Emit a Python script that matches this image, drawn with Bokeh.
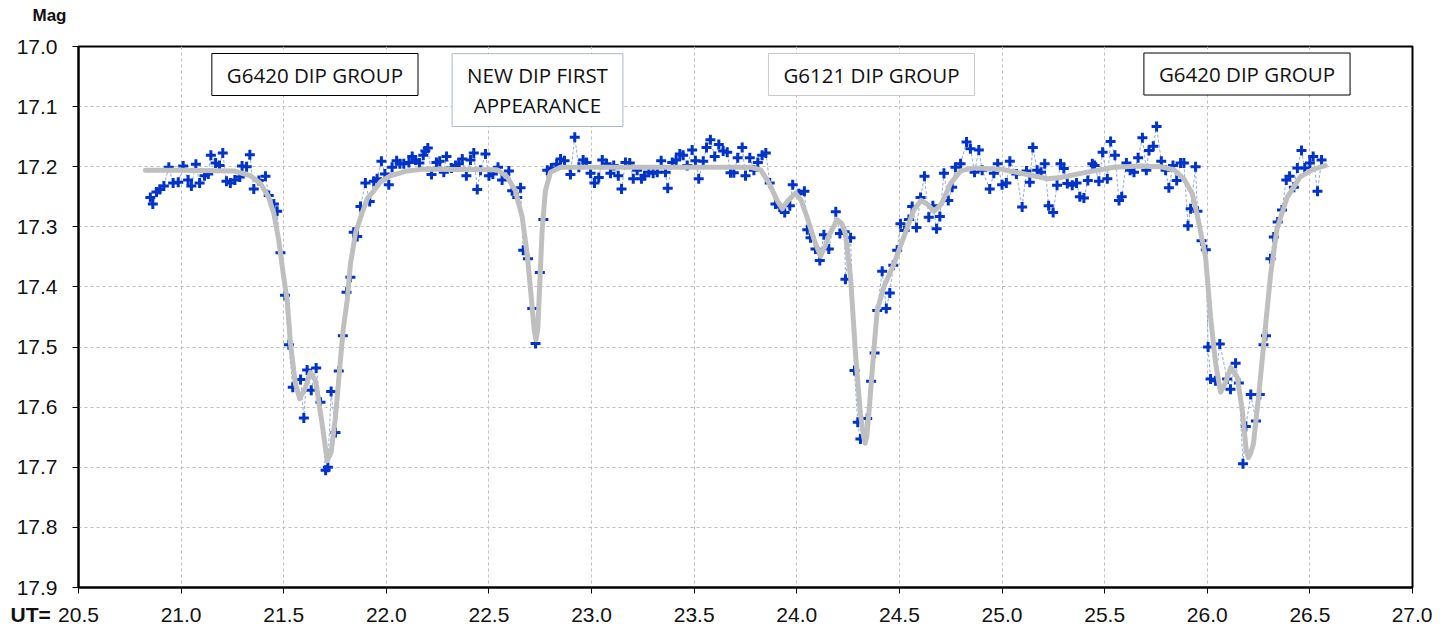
from bokeh.plotting import figure
from bokeh.models import Range1d, FixedTicker, NumeralTickFormatter, Label, Title, ColumnDataSource
from bokeh.embed import file_html
from bokeh.resources import INLINE

# ---- observed photometry (UT hours, magnitude) ----
ut = [
20.850,20.862,20.880,20.896,20.916,20.940,20.961,20.986,21.010,21.034,21.050,21.072,21.090,21.114,21.132,
21.145,21.168,21.187,21.203,21.221,21.240,21.262,21.286,21.297,21.319,21.335,21.354,21.379,21.411,21.427,
21.452,21.468,21.484,21.506,21.525,21.544,21.582,21.598,21.614,21.634,21.658,21.679,21.704,21.715,21.731,
21.752,21.768,21.788,21.806,21.825,21.841,21.858,21.874,21.898,21.919,21.939,21.955,21.976,21.993,22.012,
22.028,22.050,22.066,22.085,22.110,22.126,22.142,22.161,22.180,22.190,22.202,22.220,22.244,22.260,22.280,
22.293,22.317,22.337,22.353,22.370,22.390,22.410,22.426,22.443,22.459,22.483,22.500,22.519,22.544,22.564,
22.597,22.613,22.638,22.654,22.667,22.690,22.711,22.727,22.748,22.765,22.784,22.804,22.830,22.849,22.868,
22.897,22.918,22.938,22.959,22.975,22.995,23.014,23.035,23.052,23.073,23.092,23.108,23.130,23.146,23.165,
23.186,23.203,23.222,23.243,23.258,23.279,23.300,23.320,23.339,23.360,23.371,23.393,23.412,23.430,23.446,
23.466,23.490,23.506,23.522,23.544,23.560,23.579,23.600,23.620,23.641,23.661,23.677,23.693,23.712,23.734,
23.750,23.771,23.791,23.810,23.831,23.849,23.868,23.896,23.917,23.941,23.966,23.980,24.010,24.037,24.051,
24.067,24.091,24.112,24.132,24.156,24.190,24.210,24.233,24.237,24.262,24.281,24.297,24.310,24.343,24.362,
24.379,24.392,24.416,24.436,24.453,24.470,24.489,24.505,24.525,24.546,24.562,24.583,24.603,24.622,24.643,
24.663,24.681,24.697,24.717,24.738,24.757,24.773,24.798,24.827,24.846,24.866,24.887,24.903,24.940,24.960,
24.979,25.000,25.021,25.038,25.070,25.098,25.119,25.135,25.150,25.171,25.190,25.208,25.227,25.249,25.268,
25.285,25.301,25.318,25.342,25.363,25.379,25.399,25.418,25.440,25.451,25.472,25.490,25.513,25.529,25.550,
25.570,25.583,25.606,25.624,25.643,25.663,25.684,25.703,25.716,25.737,25.753,25.776,25.797,25.813,25.833,
25.851,25.870,25.886,25.906,25.919,25.943,25.952,25.972,25.993,26.004,26.016,26.040,26.061,26.097,26.113,
26.138,26.154,26.174,26.188,26.212,26.237,26.256,26.274,26.286,26.308,26.324,26.343,26.364,26.385,26.401,
26.422,26.439,26.459,26.475,26.500,26.516,26.537,26.557,
]
mag = [
17.251,17.262,17.242,17.238,17.232,17.201,17.227,17.226,17.199,17.222,17.232,17.196,17.227,17.215,17.212,
17.181,17.194,17.198,17.177,17.224,17.227,17.222,17.217,17.199,17.200,17.180,17.237,17.223,17.216,17.248,
17.262,17.274,17.343,17.414,17.496,17.567,17.554,17.618,17.538,17.572,17.535,17.592,17.705,17.700,17.574,
17.642,17.540,17.481,17.409,17.384,17.309,17.316,17.266,17.227,17.258,17.224,17.220,17.191,17.212,17.230,
17.201,17.190,17.195,17.195,17.193,17.183,17.189,17.194,17.181,17.174,17.169,17.213,17.193,17.191,17.209,
17.183,17.202,17.198,17.195,17.187,17.215,17.189,17.177,17.238,17.206,17.179,17.215,17.212,17.201,17.222,
17.207,17.240,17.251,17.235,17.339,17.353,17.436,17.494,17.376,17.288,17.206,17.202,17.196,17.187,17.190,
17.213,17.151,17.201,17.189,17.193,17.211,17.227,17.218,17.189,17.195,17.211,17.198,17.215,17.237,17.193,
17.194,17.220,17.206,17.220,17.215,17.209,17.211,17.209,17.190,17.209,17.236,17.193,17.189,17.179,17.181,
17.198,17.172,17.190,17.220,17.191,17.168,17.155,17.183,17.163,17.174,17.176,17.210,17.210,17.185,17.168,
17.215,17.185,17.206,17.193,17.181,17.177,17.227,17.262,17.267,17.276,17.265,17.230,17.245,17.241,17.305,
17.318,17.337,17.356,17.313,17.337,17.275,17.311,17.308,17.387,17.318,17.539,17.625,17.653,17.619,17.557,
17.510,17.439,17.374,17.436,17.410,17.364,17.339,17.295,17.306,17.288,17.266,17.301,17.251,17.216,17.284,
17.265,17.303,17.283,17.211,17.256,17.234,17.201,17.195,17.159,17.170,17.209,17.172,17.206,17.237,17.211,
17.195,17.230,17.227,17.191,17.212,17.267,17.207,17.226,17.168,17.206,17.209,17.195,17.265,17.276,17.231,
17.195,17.203,17.228,17.231,17.227,17.250,17.252,17.223,17.195,17.198,17.224,17.176,17.220,17.158,17.181,
17.256,17.250,17.194,17.206,17.209,17.185,17.152,17.206,17.173,17.166,17.133,17.191,17.206,17.235,17.198,
17.223,17.194,17.194,17.298,17.270,17.200,17.274,17.323,17.338,17.500,17.553,17.556,17.495,17.553,17.570,
17.527,17.560,17.694,17.632,17.579,17.623,17.579,17.496,17.481,17.353,17.317,17.292,17.272,17.222,17.216,
17.234,17.202,17.173,17.202,17.194,17.183,17.241,17.189,
]

# ---- model curve (UT hours, magnitude) ----
model_ut = [
20.826,21.000,21.257,21.338,21.387,21.427,21.452,21.476,21.500,21.517,21.533,21.557,21.578,21.606,21.630,
21.655,21.687,21.712,21.731,21.752,21.773,21.790,21.809,21.825,21.850,21.874,21.907,21.939,21.972,22.020,
22.061,22.101,22.183,22.540,22.589,22.629,22.662,22.686,22.706,22.720,22.729,22.738,22.746,22.759,22.775,
22.800,22.849,23.044,23.774,23.823,23.863,23.904,23.929,23.953,23.993,24.020,24.051,24.085,24.116,24.140,
24.157,24.197,24.220,24.237,24.262,24.286,24.310,24.325,24.333,24.341,24.351,24.375,24.392,24.424,24.473,
24.521,24.570,24.606,24.635,24.668,24.705,24.749,24.798,24.863,24.994,25.124,25.221,25.285,25.415,25.545,
25.675,25.773,25.838,25.886,25.927,25.951,25.992,26.016,26.041,26.065,26.089,26.114,26.146,26.171,26.190,
26.200,26.210,26.225,26.253,26.285,26.309,26.340,26.389,26.453,26.518,26.575,
]
model_mag = [
17.206,17.206,17.207,17.215,17.228,17.251,17.278,17.323,17.384,17.423,17.495,17.561,17.586,17.567,17.542,
17.556,17.628,17.689,17.675,17.617,17.534,17.470,17.423,17.362,17.310,17.285,17.253,17.240,17.225,17.215,
17.211,17.207,17.204,17.205,17.217,17.240,17.284,17.345,17.417,17.470,17.488,17.470,17.406,17.306,17.240,
17.209,17.201,17.201,17.201,17.205,17.226,17.256,17.270,17.258,17.244,17.255,17.285,17.322,17.349,17.330,
17.314,17.288,17.295,17.312,17.384,17.511,17.611,17.648,17.660,17.648,17.611,17.506,17.439,17.400,17.362,
17.317,17.272,17.256,17.262,17.274,17.262,17.228,17.207,17.202,17.204,17.213,17.220,17.218,17.209,17.201,
17.199,17.200,17.205,17.220,17.245,17.280,17.351,17.450,17.528,17.575,17.559,17.534,17.550,17.606,17.672,
17.684,17.678,17.661,17.572,17.461,17.378,17.303,17.251,17.217,17.204,17.198,
]

x_ticks = [20.5, 21.0, 21.5, 22.0, 22.5, 23.0, 23.5, 24.0, 24.5, 25.0, 25.5, 26.0, 26.5, 27.0]
y_ticks = [17.0, 17.1, 17.2, 17.3, 17.4, 17.5, 17.6, 17.7, 17.8, 17.9]

notes = ["G6420 DIP GROUP", "NEW DIP FIRST\nAPPEARANCE", "G6121 DIP GROUP", "G6420 DIP GROUP"]
note_x = [21.652, 22.7365, 24.364, 26.1935]
note_y = [17.0466, 17.0725, 17.0466, 17.0458]
note_border = ["#000000", "#a9b8c8", "#c8c8c8", "#000000"]

p = figure(width=1432, height=629, output_backend="svg", toolbar_location=None,
           x_range=Range1d(20.5, 27.0), y_range=Range1d(17.9, 17.0),
           min_border_left=78, min_border_right=20, min_border_top=46, min_border_bottom=42)

p.outline_line_color = "black"
p.outline_line_width = 2
p.background_fill_color = "white"
p.border_fill_color = "white"

# "Mag" caption as the (outermost) title, lifted by a white spacer title next to the frame
p.title.text = "Mag"
p.title.align = "left"
p.title.offset = -46
p.title.text_font = "Liberation Sans"
p.title.text_font_size = "17px"
p.title.text_font_style = "bold"
p.title.text_color = "#111111"
p.title.standoff = 4
p.add_layout(Title(text=".", text_font_size="2px", text_color="#ffffff", standoff=17), "above")

for ax in (p.xaxis[0], p.yaxis[0]):
    ax.axis_line_color = "black"
    ax.axis_line_width = 2
    ax.major_tick_line_color = "black"
    ax.major_tick_line_width = 1
    ax.major_tick_out = 6
    ax.major_tick_in = 0
    ax.minor_tick_out = 0
    ax.minor_tick_in = 0
    ax.major_label_text_font = "Liberation Sans"
    ax.major_label_text_font_size = "21px"
    ax.major_label_text_color = "#111111"
    ax.formatter = NumeralTickFormatter(format="0.0")

p.xaxis[0].ticker = FixedTicker(ticks=x_ticks)
p.yaxis[0].ticker = FixedTicker(ticks=y_ticks)
p.xaxis[0].major_label_standoff = 14
p.yaxis[0].major_label_standoff = 15

# x-axis caption "UT=" placed in the tick-label row, left of 20.5
p.add_layout(Title(text="UT=", align="left", offset=-68, vertical_align="top", standoff=-44,
                   text_font="Liberation Sans", text_font_size="21px", text_font_style="bold",
                   text_color="#111111"), "below")

for g in (p.xgrid[0], p.ygrid[0]):
    g.grid_line_color = "#bdbdbd"
    g.grid_line_dash = "3 3"
    g.grid_line_width = 1
p.xgrid[0].ticker = FixedTicker(ticks=x_ticks)
p.ygrid[0].ticker = FixedTicker(ticks=y_ticks)

src = ColumnDataSource(dict(ut=ut, mag=mag))
p.line("ut", "mag", source=src, line_color="#8eaadb", line_width=1, line_dash="3 2")
p.scatter("ut", "mag", source=src, marker="cross", size=10, line_width=3, line_color="#0033cc")
p.line(model_ut, model_mag, line_color="#bfbfbf", line_width=5, line_join="round", line_cap="round")

for t, x, y, bc in zip(notes, note_x, note_y, note_border):
    p.add_layout(Label(x=x, y=y, text=t, text_align="center", text_baseline="middle",
                       text_font="Open Sans", text_font_size="20.5px", text_color="#111111",
                       text_line_height=1.1,
                       background_fill_color="white", border_line_color=bc, border_line_width=1,
                       padding=(15, 7)))

open("out.html", "w").write(file_html(p, INLINE))
